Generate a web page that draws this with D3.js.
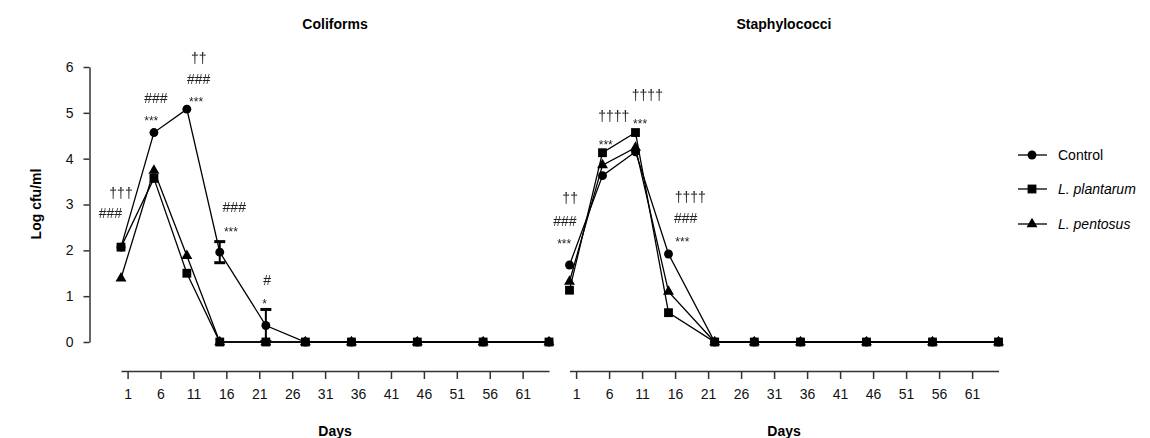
<!DOCTYPE html>
<html>
<head>
<meta charset="utf-8">
<script src="https://cdn.jsdelivr.net/npm/d3@7"></script>
<style>
  body { margin: 0; background: #fff; }
  svg { font-family: "Liberation Sans", Arial, Helvetica, sans-serif; }
</style>
</head>
<body>
<svg id="chart" width="1150" height="438"></svg>
<script>
// sampling days (same for both panels)
const days = [0, 5, 10, 15, 22, 28, 35, 45, 55, 65];
const tickDays = [1, 6, 11, 16, 21, 26, 31, 36, 41, 46, 51, 56, 61];
const yTicks = [0, 1, 2, 3, 4, 5, 6];

// Coliforms (log cfu/ml)
const coliControl = [2.07, 4.57, 5.08, 1.96, 0.36, 0, 0, 0, 0, 0];
const coliControlErr = [0, 0, 0, 0.23, 0.35, 0, 0, 0, 0, 0];
const coliPlantarum = [2.07, 3.57, 1.50, 0, 0, 0, 0, 0, 0, 0];
const coliPentosus = [1.39, 3.74, 1.88, 0, 0, 0, 0, 0, 0, 0];

// Staphylococci (log cfu/ml)
const staphControl = [1.68, 3.63, 4.15, 1.92, 0, 0, 0, 0, 0, 0];
const staphPlantarum = [1.13, 4.13, 4.57, 0.64, 0, 0, 0, 0, 0, 0];
const staphPentosus = [1.32, 3.86, 4.24, 1.10, 0, 0, 0, 0, 0, 0];

// significance marks: [day, log value, text]
const coliMarks = [
  [0, 3.25, '†††'], [-1.6, 2.82, '###'],
  [5.3, 5.32, '###'], [4.6, 4.88, '***'],
  [11.8, 6.19, '††'], [11.8, 5.74, '###'], [11.4, 5.30, '***'],
  [17.2, 2.95, '###'], [16.7, 2.47, '***'],
  [22.2, 1.35, '#'], [21.8, 0.90, '*']
];
const staphMarks = [
  [0.1, 3.14, '††'], [-0.7, 2.65, '###'], [-0.8, 2.21, '***'],
  [5.5, 4.37, '***'], [6.7, 4.93, '††††'], [10.7, 4.82, '***'],
  [11.8, 5.39, '††††'],
  [18.3, 3.17, '††††'], [17.6, 2.71, '###'], [17.1, 2.25, '***']
];

const seriesNames = ['Control', 'L. plantarum', 'L. pentosus'];
const symbols = [d3.symbolCircle, d3.symbolSquare, d3.symbolTriangle];
const symbolSize = [62, 78, 52];

const svg = d3.select('#chart');

// grey filter so the small marks don't pick up colour fringes
svg.append('defs').append('filter').attr('id', 'grey')
  .append('feColorMatrix').attr('type', 'saturate').attr('values', 0);

const y = d3.scaleLinear().domain([0, 6]).range([342, 67]);

function styleAxis(ax) {
  ax.select('.domain').attr('stroke', '#333').attr('stroke-width', 1.5);
  ax.selectAll('.tick line').attr('stroke', '#333').attr('stroke-width', 1.5);
  ax.selectAll('text').attr('font-size', 14).attr('fill', '#111')
    .attr('font-family', '"Liberation Sans", Arial, sans-serif');
}

function panel(x0, x1, title, series, errs, marks, showY) {
  const x = d3.scaleLinear().domain([0, 65]).range([x0, x1]);
  const g = svg.append('g');

  // x axis sits below the plot
  const xAxis = g.append('g')
    .attr('transform', 'translate(0,371)')
    .call(d3.axisBottom(x).tickValues(tickDays).tickSize(8).tickPadding(10).tickSizeOuter(0));
  styleAxis(xAxis);

  if (showY) {
    const yAxis = g.append('g')
      .attr('transform', 'translate(89.5,0)')
      .call(d3.axisLeft(y).tickValues(yTicks).tickFormat(d3.format('d'))
        .tickSize(6).tickPadding(10).tickSizeOuter(0));
    styleAxis(yAxis);
  }

  g.append('text')
    .attr('x', (x0 + x1) / 2).attr('y', 29)
    .attr('text-anchor', 'middle').attr('font-size', 14).attr('font-weight', 'bold')
    .text(title);

  g.append('text')
    .attr('x', (x0 + x1) / 2).attr('y', 436)
    .attr('text-anchor', 'middle').attr('font-size', 14).attr('font-weight', 'bold')
    .text('Days');

  const line = d3.line().x((d, i) => x(days[i])).y(d => y(d));

  series.forEach((vals, s) => {
    g.append('path')
      .datum(vals)
      .attr('fill', 'none').attr('stroke', '#000').attr('stroke-width', 1.3)
      .attr('d', line);

    if (errs[s]) {
      errs[s].forEach((e, i) => {
        if (!e) return;
        const cx = x(days[i]);
        const lo = Math.max(0, vals[i] - e), hi = vals[i] + e;
        g.append('line').attr('x1', cx).attr('x2', cx)
          .attr('y1', y(lo)).attr('y2', y(hi)).attr('stroke', '#000').attr('stroke-width', 2);
        [lo, hi].forEach(v => {
          g.append('line').attr('x1', cx - 5.5).attr('x2', cx + 5.5)
            .attr('y1', y(v)).attr('y2', y(v)).attr('stroke', '#000').attr('stroke-width', 3);
        });
      });
    }

    g.selectAll(null).data(vals).enter().append('path')
      .attr('transform', (d, i) => `translate(${x(days[i])},${y(d)})`)
      .attr('d', d3.symbol().type(symbols[s]).size(symbolSize[s]))
      .attr('fill', '#000');
  });

  g.append('g').attr('filter', 'url(#grey)')
    .selectAll('text').data(marks).enter().append('text')
    .attr('x', d => x(d[0]))
    .attr('y', d => y(d[1]) + (d[2].includes('*') ? 7 : 5))
    .attr('text-anchor', 'middle')
    .attr('font-size', d => d[2].includes('*') ? 12 : 14)
    .attr('fill', '#222')
    .text(d => d[2]);
}

panel(121, 549, 'Coliforms', [coliControl, coliPlantarum, coliPentosus],
  [coliControlErr, null, null], coliMarks, true);
panel(569.5, 998.5, 'Staphylococci', [staphControl, staphPlantarum, staphPentosus],
  [null, null, null], staphMarks, false);

svg.append('text')
  .attr('transform', 'translate(41,204) rotate(-90)')
  .attr('text-anchor', 'middle').attr('font-size', 14).attr('font-weight', 'bold')
  .text('Log cfu/ml');

// legend
const legend = svg.append('g');
const legendY = [155, 189, 224];
seriesNames.forEach((name, i) => {
  legend.append('line')
    .attr('x1', 1018).attr('x2', 1047).attr('y1', legendY[i]).attr('y2', legendY[i])
    .attr('stroke', '#000').attr('stroke-width', 1.3);
  legend.append('path')
    .attr('transform', `translate(1032,${legendY[i]})`)
    .attr('d', d3.symbol().type(symbols[i]).size(symbolSize[i]))
    .attr('fill', '#000');
  legend.append('text')
    .attr('x', 1058).attr('y', legendY[i] + 5)
    .attr('font-size', 14)
    .attr('font-style', i > 0 ? 'italic' : 'normal')
    .text(name);
});
</script>
</body>
</html>
